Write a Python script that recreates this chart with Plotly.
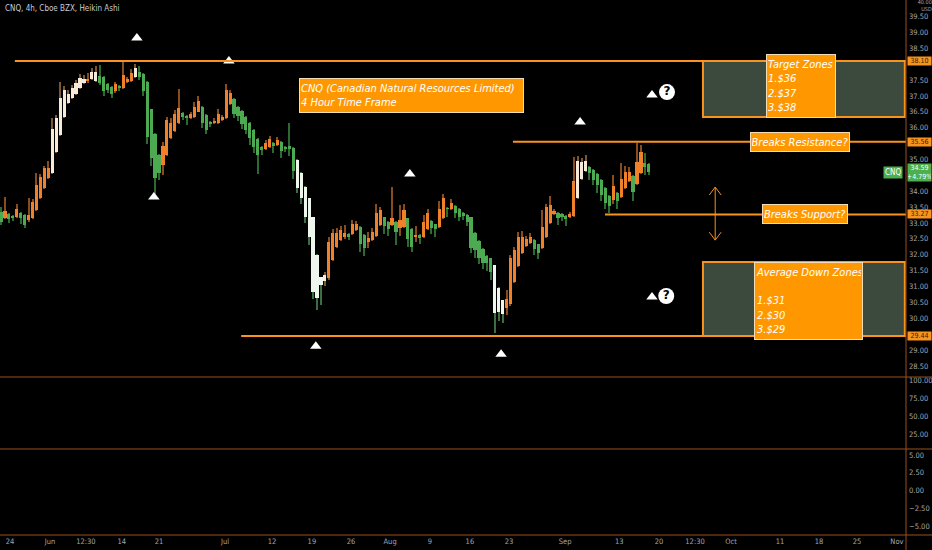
import plotly.graph_objects as go

# ---------------- data (Heikin Ashi 4h bars, CNQ) ----------------
bar_open = [33.34,33.15,33.28,33.22,33.18,33.31,33.25,33.09,33.15,33.41,
 33.78,34.10,34.42,34.57,35.24,35.77,36.34,36.78,36.94,37.06,
 37.25,37.41,37.47,37.54,37.47,37.63,37.60,37.38,37.28,37.16,
 37.31,37.25,37.44,37.47,37.60,37.76,37.69,37.44,36.59,35.80,
 35.14,34.83,35.14,35.68,35.90,36.15,36.46,36.37,36.31,36.34,
 36.50,36.65,36.40,36.18,36.15,36.15,36.24,36.31,36.75,36.90,
 36.65,36.53,36.34,36.15,35.93,35.65,35.39,35.33,35.39,35.52,
 35.46,35.55,35.39,35.42,35.36,34.98,34.57,34.13,33.78,33.18,
 31.99,31.29,31.17,31.26,31.83,32.24,32.46,32.55,32.65,32.65,
 32.78,32.87,32.62,32.40,32.46,32.59,32.93,33.18,33.03,32.93,
 33.03,32.84,32.87,33.15,32.81,32.55,32.62,32.55,32.81,33.06,
 32.96,32.87,33.15,33.47,33.44,33.53,33.44,33.31,33.25,33.18,
 32.68,32.43,32.18,31.96,31.89,31.67,30.95,30.57,30.32,30.44,
 31.14,31.64,32.05,32.27,32.37,32.46,32.33,32.21,32.55,33.00,
 33.28,33.31,33.28,33.22,33.18,33.22,33.78,34.39,34.64,34.76,
 34.67,34.54,34.35,34.10,33.85,33.72,33.94,33.81,34.10,34.32,
 34.48,34.22,34.57,34.89,34.86]
bar_high = [33.50,33.81,33.31,33.25,33.60,33.34,33.28,33.78,33.75,34.57,
 34.55,34.80,34.95,36.30,36.40,37.44,37.30,37.20,37.35,37.50,
 37.70,37.65,37.72,37.88,37.95,37.98,37.63,37.40,37.30,37.45,
 37.33,38.07,37.60,37.85,38.01,37.94,37.72,37.46,36.60,35.82,
 35.16,35.55,36.35,36.30,36.55,37.22,36.50,36.40,36.50,36.80,
 37.00,36.68,36.42,36.20,36.30,36.60,36.40,37.38,37.20,36.93,
 36.67,36.55,36.36,36.17,35.95,35.67,35.41,35.62,35.75,35.54,
 35.70,35.57,35.41,36.15,35.38,35.00,34.59,34.15,33.80,33.20,
 32.01,31.31,31.45,32.55,32.80,32.85,32.90,32.95,32.67,33.10,
 33.05,32.89,32.64,32.70,32.85,33.60,33.50,33.20,33.05,34.13,
 33.05,33.56,33.60,33.17,32.83,32.90,32.64,33.25,33.45,33.08,
 32.98,33.70,33.90,33.50,33.75,33.55,33.46,33.33,33.27,33.20,
 32.70,32.45,32.20,31.98,31.91,31.69,30.97,30.59,30.90,32.00,
 32.25,32.70,32.75,32.60,32.68,32.48,32.35,33.40,33.60,33.85,
 33.45,33.33,33.30,33.24,33.35,35.08,35.10,35.05,35.15,34.78,
 34.69,34.56,34.37,34.12,33.87,34.50,33.96,34.90,34.80,34.75,
 34.50,35.52,35.45,35.20,34.88]
bar_low = [32.93,33.12,32.99,33.06,33.15,32.96,32.85,33.02,33.12,33.38,
 33.75,34.08,34.40,34.55,35.20,35.75,36.30,36.75,36.90,37.03,
 37.22,37.38,37.40,37.50,37.45,37.35,37.00,37.10,36.95,37.10,
 37.15,37.22,37.40,37.45,37.58,37.50,37.00,35.50,34.80,33.88,
 34.35,34.50,35.10,35.65,35.85,36.12,36.25,36.10,36.28,36.30,
 36.48,36.00,35.80,36.02,36.12,36.12,36.20,36.28,36.72,36.30,
 36.20,35.95,35.80,35.45,35.20,34.55,35.15,35.30,35.36,35.20,
 35.43,35.05,35.25,35.10,34.40,33.95,33.60,33.00,32.30,30.60,
 30.26,30.41,31.00,31.20,31.80,32.20,32.43,32.50,32.45,32.62,
 32.75,32.10,31.95,32.20,32.43,32.56,32.90,32.65,32.60,32.90,
 32.30,32.60,32.84,32.25,32.10,32.40,32.35,32.52,32.78,32.65,
 32.55,32.84,33.12,33.20,33.41,33.15,33.05,33.10,32.90,32.05,
 31.90,31.70,31.55,31.50,31.20,29.53,29.90,29.85,30.10,30.40,
 31.10,31.60,32.02,32.24,32.34,32.00,31.85,32.18,32.52,32.97,
 33.25,32.95,33.05,32.90,33.15,33.19,33.75,34.36,34.60,34.35,
 34.20,33.95,33.70,33.45,33.31,33.60,33.45,33.78,34.07,34.29,
 33.70,34.19,34.54,34.50,34.50]
bar_close = [33.03,33.37,33.12,33.15,33.44,33.15,32.93,33.25,33.66,34.19,
 34.45,34.73,34.73,35.96,36.31,36.94,37.19,37.06,37.25,37.41,
 37.57,37.54,37.54,37.76,37.76,37.41,37.16,37.19,37.06,37.38,
 37.25,37.66,37.54,37.72,37.88,37.60,37.16,35.71,35.03,34.42,
 34.57,35.42,36.24,36.15,36.43,36.62,36.34,36.31,36.43,36.65,
 36.84,36.15,35.93,36.12,36.21,36.43,36.34,37.19,37.09,36.43,
 36.37,36.12,35.93,35.68,35.39,35.14,35.30,35.52,35.65,35.42,
 35.61,35.27,35.36,35.33,34.64,34.10,33.78,33.18,32.55,30.82,
 30.63,31.04,31.36,32.40,32.68,32.68,32.78,32.68,32.55,32.96,
 32.96,32.33,32.21,32.52,32.71,33.31,33.41,32.90,32.81,33.15,
 32.71,33.09,33.41,32.49,32.24,32.62,32.52,33.03,33.31,32.84,
 32.81,33.44,33.78,33.44,33.63,33.31,33.18,33.22,33.03,32.21,
 32.15,31.89,31.74,31.74,31.45,30.16,30.19,30.13,30.60,31.89,
 32.15,32.55,32.55,32.49,32.55,32.18,32.05,32.87,33.50,33.56,
 33.37,33.15,33.18,33.12,33.28,34.32,34.95,34.92,34.95,34.57,
 34.35,34.19,33.88,33.63,33.53,34.16,33.69,34.39,34.61,34.61,
 33.97,34.92,35.24,34.76,34.62]
# bars flagged as strong-trend (drawn pale)
strong_bars = [13,14,15,16,17,18,19,20,21,23,24,34,75,76,77,78,79,80,81,82,125,126,127,146,147,148]

x_tick_pos = [2.3,12.4,21.5,30.6,40.0,56.7,68.6,78.7,88.6,98.5,108.6,118.7,128.6,142.8,156.5,166.6,175.7,184.8,197.2,207.1,216.7,226.8]
x_tick_text = ["24","Jun","12:30","14","21","Jul","12","19","26","Aug","9","16","23","Sep","13","20","12:30","Oct","11","18","25","Nov"]

# price scale ticks (those hidden behind highlighted labels are left out)
price_ticks = [28.5,29.0,30.0,30.5,31.0,31.5,32.0,32.5,33.0,33.5,34.0,35.0,36.0,36.5,37.0,37.5,38.5,39.0,39.5]
price_top_label = "40.00"
currency = "USD"
osc1_ticks = [25,50,75,100]
osc2_ticks = [-5,-2.5,0,2.5,5]

# drawing levels
level_target_top = 38.10
level_resistance = 35.56
level_support = 33.27
level_avg_bottom = 29.44
target_zone_low = 36.34
avg_zone_high = 31.77
level_start = {38.10: 3.5, 35.56: 129.6, 33.27: 152.9, 29.44: 60.8}
zone_start = 177.7

# arrow marks (bar index, price)
mark_x = [34.4, 57.7, 38.7, 103.5, 146.6, 79.7, 126.6, 164.8, 164.8]
mark_y = [38.82, 38.10, 33.82, 34.54, 36.18, 29.12, 28.87, 37.03, 30.67]
q_x = [168.6, 168.4]
q_y = [37.12, 30.70]

last_price = 34.59
last_change = "+4.79%"

# ---------------- figure ----------------
n = len(bar_close)
idx = list(range(n))
ORANGE = "#f0812a"; GREEN = "#4caa50"; CREAM = "#f6ead8"; PALE = "#eef6ee"
W_OR = "#8a4c1c"; W_GR = "#2d6a32"; W_CR = "#7a5634"; W_PA = "#3c6e42"
body_col, wick_col, base, height = [], [], [], []
for i in idx:
    o, c = bar_open[i], bar_close[i]
    up = c >= o
    if i in strong_bars:
        body_col.append(CREAM if up else PALE); wick_col.append(W_CR if up else W_PA)
    else:
        body_col.append(ORANGE if up else GREEN); wick_col.append(W_OR if up else W_GR)
    base.append(min(o, c)); height.append(max(abs(c - o), 0.03))

fig = go.Figure()
fig.add_trace(go.Bar(x=idx, y=[h - l for h, l in zip(bar_high, bar_low)], base=bar_low, width=0.3,
                     marker=dict(color=wick_col, line=dict(width=0)), hoverinfo="skip"))
fig.add_trace(go.Bar(x=idx, y=height, base=base, width=0.8,
                     marker=dict(color=body_col, line=dict(width=0)), hoverinfo="skip"))

LINE = "#f7931e"
XMAX = 229.1
# zones
fig.add_shape(type="rect", xref="x", yref="y", x0=zone_start, x1=XMAX - 0.3, y0=target_zone_low, y1=level_target_top,
              fillcolor="#3b4a3d", line=dict(color=LINE, width=2), layer="below")
fig.add_shape(type="rect", xref="x", yref="y", x0=zone_start, x1=XMAX - 0.3, y0=level_avg_bottom, y1=avg_zone_high,
              fillcolor="#3b4a3d", line=dict(color=LINE, width=2), layer="below")
for lv, st in level_start.items():
    fig.add_shape(type="line", xref="x", yref="y", x0=st, x1=XMAX, y0=lv, y1=lv, line=dict(color=LINE, width=2))

# marks
fig.add_trace(go.Scatter(x=mark_x, y=mark_y, mode="markers", marker=dict(symbol="triangle-up", size=10, color="white"),
                         hoverinfo="skip"))
fig.add_trace(go.Scatter(x=q_x, y=q_y, mode="markers+text", text=["<b>?</b>", "<b>?</b>"], textposition="middle center",
                         textfont=dict(color="black", size=12, family="DejaVu Sans"),
                         marker=dict(symbol="circle", size=16, color="white"), hoverinfo="skip"))
# double arrow
ax = 180.8
fig.add_trace(go.Scatter(x=[ax, ax, None, ax - 1.5, ax, ax + 1.5, None, ax - 1.5, ax, ax + 1.5],
                         y=[34.13, 32.46, None, 33.88, 34.13, 33.88, None, 32.71, 32.46, 32.71],
                         mode="lines", line=dict(color=LINE, width=1), hoverinfo="skip"))
# empty traces for lower panes
fig.add_trace(go.Scatter(x=[None], y=[None], yaxis="y2", hoverinfo="skip"))
fig.add_trace(go.Scatter(x=[None], y=[None], yaxis="y3", hoverinfo="skip"))

TXTFONT = "Liberation Sans Narrow, DejaVu Sans Condensed, Open Sans, sans-serif"
BOX = "#ff9800"
def box(x, y, text, w, h, align="left", size=11):
    fig.add_annotation(x=x, y=y, xref="x", yref="y", text=text, showarrow=False, align=align,
                       width=w, height=h, bgcolor=BOX, bordercolor="#f4dcb4", borderwidth=1, borderpad=1,
                       font=dict(family=TXTFONT, size=size, color="white"), xanchor="center", yanchor="middle")

box(103.9, 37.01, "<i>CNQ (Canadian Natural Resources Limited)<br>4 Hour Time Frame</i>", 221, 31)
box(202.5, 37.31, "<i>Target Zones<br>1.$36<br>2.$37<br>3.$38</i>", 66, 60)
box(202.3, level_resistance, "<i>Breaks Resistance?</i>", 96, 16, "center")
box(203.5, level_support, "<i>Breaks Support?</i>", 82, 16, "center")
box(204.4, 30.54, "<i>Average Down Zones<br><br>1.$31<br>2.$30<br>3.$29</i>", 105, 74)

# axis price labels
AXF = "Liberation Sans Narrow, DejaVu Sans Condensed, Liberation Sans, sans-serif"
for lv in [level_target_top, level_resistance, level_support, level_avg_bottom]:
    fig.add_annotation(x=1, xref="paper", y=lv, yref="y", text=f"{lv:.2f}", showarrow=False, xanchor="left",
                       yanchor="middle", bgcolor=LINE, font=dict(family=AXF, size=7, color="#3a1c00"),
                       borderpad=0, width=23, xshift=1)
fig.add_annotation(x=1, xref="paper", y=last_price, yref="y", text=f"{last_price:.2f}<br>{last_change}",
                   showarrow=False, xanchor="left", yanchor="middle", bgcolor="#4caf50",
                   font=dict(family=AXF, size=7, color="white"), borderpad=0, width=23, xshift=1)
fig.add_annotation(x=1, xref="paper", y=last_price, yref="y", text="CNQ", showarrow=False, xanchor="right",
                   yanchor="middle", bgcolor="#4caf50", font=dict(family=AXF, size=8, color="white"),
                   borderpad=1, xshift=-3)
fig.add_annotation(x=1, xref="paper", y=1, yref="paper", text=f"{price_top_label}<br>{currency}", showarrow=False,
                   xanchor="left", yanchor="top", align="right", width=22, borderpad=0,
                   font=dict(family=AXF, size=5.5, color="#a3a6af"), xshift=3, yshift=2)
fig.add_annotation(x=0, xref="paper", y=1, yref="paper", text="CNQ, 4h, Cboe BZX, Heikin Ashi", showarrow=False,
                   xanchor="left", yanchor="top", font=dict(family=AXF, size=8, color="#c9ccd3"), xshift=3, yshift=-2)

# pane separators
SEP = "#9a4f1c"
D1 = (535 - 377) / 535
D2 = (535 - 449) / 535
for yy in [D1, D2, 0]:
    fig.add_shape(type="line", xref="paper", yref="paper", x0=0, x1=932 / 906, y0=yy, y1=yy,
                  line=dict(color=SEP, width=1))
fig.add_shape(type="line", xref="paper", yref="paper", x0=1, x1=1, y0=-15 / 535, y1=1, line=dict(color=SEP, width=1))

tickf = dict(family=AXF, size=7.5, color="#a3a6af")
yax_common = dict(side="right", anchor="x", tickfont=tickf, showgrid=False, zeroline=False, ticks="",
                  ticklabelstandoff=2, automargin=False)
fig.update_layout(
    width=932, height=550, margin=dict(l=0, r=26, t=0, b=15, autoexpand=False),
    paper_bgcolor="black", plot_bgcolor="black", showlegend=False, barmode="overlay", bargap=0,
    xaxis=dict(range=[-0.25, XMAX], domain=[0, 1], anchor="y3", tickvals=x_tick_pos, ticktext=x_tick_text,
               tickfont=tickf, showgrid=False, zeroline=False, showline=False, ticks="", automargin=False),
    yaxis=dict(domain=[D1, 1], range=[28.15, 40.02], tickvals=price_ticks,
               ticktext=[f"{v:.2f}" for v in price_ticks], **yax_common),
    yaxis2=dict(domain=[D2, D1], range=[4.2, 104.2], tickvals=osc1_ticks,
                ticktext=[f"{v:.2f}" for v in osc1_ticks], **yax_common),
    yaxis3=dict(domain=[0, D2], range=[-6.27, 5.85], tickvals=osc2_ticks,
                ticktext=[f"{v:.2f}".replace("-", "\u2212") for v in osc2_ticks], **yax_common),
)
fig.write_html("out.html", config={"displayModeBar": False},
               post_script="document.body.style.margin='0';document.body.style.overflow='hidden';")
